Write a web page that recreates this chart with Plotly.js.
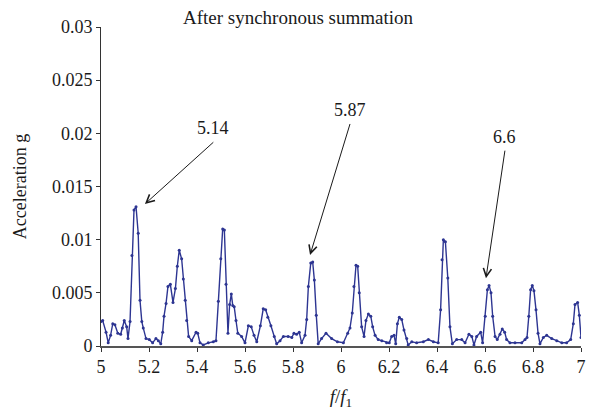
<!DOCTYPE html>
<html>
<head>
<meta charset="utf-8">
<script src="https://cdn.plot.ly/plotly-3.0.1.min.js"></script>
<style>html,body{margin:0;padding:0;background:#fff;}#chart{width:590px;height:415px;}</style>
</head>
<body>
<div id="chart"></div>
<script>
// f/f1 positions
const freqRatio = [
  5.000, 5.007, 5.021, 5.030, 5.040, 5.049, 5.058, 5.070, 5.082, 5.089,
  5.097, 5.107, 5.1125, 5.121, 5.129, 5.1375, 5.146, 5.155, 5.1625, 5.170,
  5.176, 5.1875, 5.201, 5.215, 5.229, 5.239, 5.249, 5.257, 5.2625, 5.271,
  5.279, 5.289, 5.300, 5.310, 5.318, 5.326, 5.336, 5.343, 5.351, 5.357,
  5.365, 5.378, 5.396, 5.403, 5.4125, 5.426, 5.447, 5.468, 5.479, 5.489,
  5.499, 5.507, 5.514, 5.521, 5.529, 5.536, 5.543, 5.549, 5.555, 5.5625,
  5.570, 5.586, 5.600, 5.614, 5.626, 5.6375, 5.649, 5.664, 5.676, 5.686,
  5.695, 5.708, 5.722, 5.732, 5.746, 5.760, 5.780, 5.795, 5.804, 5.815,
  5.826, 5.836, 5.850, 5.857, 5.864, 5.874, 5.882, 5.889, 5.897, 5.905,
  5.919, 5.9375, 5.961, 5.985, 6.010, 6.028, 6.0375, 6.047, 6.054, 6.0625,
  6.0695, 6.076, 6.086, 6.096, 6.104, 6.114, 6.124, 6.132, 6.142, 6.155,
  6.170, 6.190, 6.201, 6.211, 6.221, 6.228, 6.235, 6.243, 6.253, 6.2625,
  6.274, 6.280, 6.295, 6.315, 6.343, 6.364, 6.385, 6.405, 6.415, 6.421,
  6.4265, 6.435, 6.445, 6.454, 6.464, 6.482, 6.503, 6.517, 6.533, 6.545,
  6.554, 6.565, 6.582, 6.590, 6.601, 6.610, 6.617, 6.625, 6.632, 6.642,
  6.651, 6.6625, 6.672, 6.682, 6.690, 6.704, 6.725, 6.753, 6.767, 6.775,
  6.7825, 6.790, 6.797, 6.804, 6.8125, 6.821, 6.829, 6.843, 6.857, 6.878,
  6.899, 6.920, 6.940, 6.957, 6.968, 6.975, 6.986, 6.993, 7.000
];
// Acceleration (g)
const acceleration = [
  0.0023, 0.0024, 0.0013, 0.0003, 0.0010, 0.0021, 0.0020, 0.0012, 0.0011, 0.0017,
  0.0024, 0.0018, 0.0007, 0.0023, 0.0085, 0.0128, 0.0131, 0.0106, 0.0043, 0.0023,
  0.0017, 0.0007, 0.0006, 0.0003, 0.0007, 0.0005, 0.0002, 0.0013, 0.0028, 0.0040,
  0.0056, 0.0058, 0.0041, 0.0054, 0.0075, 0.0090, 0.0082, 0.0063, 0.0043, 0.0024,
  0.0009, 0.0005, 0.0013, 0.0012, 0.0003, 0.0001, 0.0003, 0.0004, 0.0005, 0.0042,
  0.0082, 0.0110, 0.0109, 0.0058, 0.0012, 0.0039, 0.0049, 0.0038, 0.0037, 0.0024,
  0.0012, 0.0009, 0.0003, 0.0019, 0.0018, 0.0010, 0.0004, 0.0019, 0.0035, 0.0034,
  0.0027, 0.0019, 0.0009, 0.0002, 0.0005, 0.0009, 0.0009, 0.0008, 0.0012, 0.0011,
  0.0013, 0.0003, 0.0010, 0.0025, 0.0056, 0.0078, 0.0079, 0.0062, 0.0029, 0.0002,
  0.0007, 0.0012, 0.0007, 0.0004, 0.0003, 0.0012, 0.0017, 0.0031, 0.0056, 0.0076,
  0.0075, 0.0050, 0.0018, 0.0009, 0.0024, 0.0030, 0.0028, 0.0018, 0.0010, 0.0006,
  0.0005, 0.0003, 0.0003, 0.0009, 0.0010, 0.0002, 0.0021, 0.0027, 0.0025, 0.0015,
  0.0007, 0.0001, 0.0004, 0.0003, 0.0004, 0.0006, 0.0004, 0.0003, 0.0034, 0.0081,
  0.0100, 0.0098, 0.0064, 0.0018, 0.0002, 0.0006, 0.0006, 0.0003, 0.0011, 0.0009,
  0.0001, 0.0009, 0.0013, 0.0003, 0.0028, 0.0053, 0.0057, 0.0050, 0.0028, 0.0009,
  0.0006, 0.0011, 0.0016, 0.0013, 0.0006, 0.0003, 0.0003, 0.0003, 0.0006, 0.0008,
  0.0028, 0.0053, 0.0057, 0.0052, 0.0034, 0.0012, 0.0002, 0.0008, 0.0010, 0.0007,
  0.0005, 0.0003, 0.0003, 0.0006, 0.0021, 0.0039, 0.0041, 0.0029, 0.0008
];
// peak labels: text, arrow head (x,y), arrow tail (x,y)
const peakLabels = ['5.14', '5.87', '6.6'];
const peakHeadX = [5.183, 5.871, 6.604];
const peakHeadY = [0.01335, 0.00856, 0.00637];
const peakTailX = [5.468, 6.0375, 6.683];
const peakTailY = [0.01916, 0.02088, 0.01837];

const xTicks = [5, 5.2, 5.4, 5.6, 5.8, 6, 6.2, 6.4, 6.6, 6.8, 7];
const xTickText = ['5', '5.2', '5.4', '5.6', '5.8', '6', '6.2', '6.4', '6.6', '6.8', '7'];
const yTicks = [0, 0.005, 0.01, 0.015, 0.02, 0.025, 0.03];
const yTickText = ['0', '0.005', '0.01', '0.015', '0.02', '0.025', '0.03'];

const FONT = '"Liberation Serif", "Times New Roman", serif';
const lineColor = '#2d3592';

const trace = {
  x: freqRatio,
  y: acceleration,
  type: 'scatter',
  mode: 'lines+markers',
  line: {color: lineColor, width: 1.4},
  marker: {color: lineColor, size: 3},
  hoverinfo: 'skip'
};

const annotations = peakLabels.map((t, i) => ({
  text: t,
  x: peakHeadX[i], y: peakHeadY[i],
  ax: peakTailX[i], ay: peakTailY[i],
  xref: 'x', yref: 'y', axref: 'x', ayref: 'y',
  showarrow: true,
  arrowhead: 5, arrowsize: 1.6, arrowwidth: 1, arrowcolor: '#1a1a1a',
  yanchor: 'bottom', xanchor: 'center',
  borderpad: 3,
  font: {family: FONT, size: 18, color: '#1a1a1a'}
}));

const layout = {
  width: 590, height: 415,
  margin: {l: 101, r: 9, t: 27, b: 69, pad: 0},
  paper_bgcolor: '#ffffff', plot_bgcolor: '#ffffff',
  showlegend: false,
  font: {family: FONT, size: 18, color: '#1a1a1a'},
  title: {
    text: 'After synchronous summation',
    font: {family: FONT, size: 19, color: '#1a1a1a'},
    xref: 'container', yref: 'container',
    x: 0.505, y: 0.958, xanchor: 'center', yanchor: 'middle'
  },
  xaxis: {
    range: [5, 7],
    tickmode: 'array', tickvals: xTicks, ticktext: xTickText,
    ticks: 'outside', ticklen: 4, tickwidth: 1, tickcolor: '#333',
    showline: true, linecolor: '#555', linewidth: 1.5,
    showgrid: false, zeroline: false,
    tickfont: {family: FONT, size: 18, color: '#1a1a1a'},
    title: {text: '<i>f</i>/<i>f</i><sub>1</sub>', font: {family: FONT, size: 19, color: '#1a1a1a'}, standoff: 13}
  },
  yaxis: {
    range: [0, 0.03],
    tickmode: 'array', tickvals: yTicks, ticktext: yTickText,
    ticks: 'outside', ticklen: 4, tickwidth: 1, tickcolor: '#333',
    showline: true, linecolor: '#333', linewidth: 1,
    showgrid: false, zeroline: false,
    tickfont: {family: FONT, size: 18, color: '#1a1a1a'},
    title: {text: 'Acceleration g', font: {family: FONT, size: 18, color: '#1a1a1a'}, standoff: 20}
  },
  annotations: annotations
};

Plotly.newPlot('chart', [trace], layout, {displayModeBar: false, staticPlot: true});
</script>
</body>
</html>
